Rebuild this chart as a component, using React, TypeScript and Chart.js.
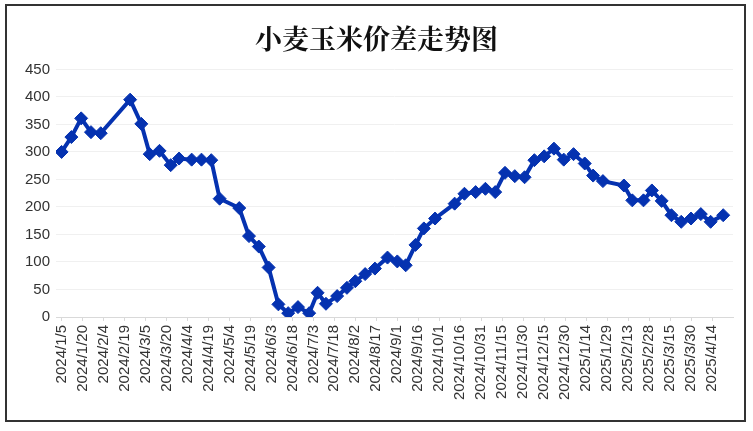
import React, { useEffect, useRef } from "react";
import { Chart, registerables } from "chart.js";

Chart.register(...registerables);

const TITLE = "小麦玉米价差走势图";

const dates: string[] = [
  "2024/1/5", "2024/1/12", "2024/1/19", "2024/1/26", "2024/2/2", "2024/2/23",
  "2024/3/2", "2024/3/8", "2024/3/15", "2024/3/23", "2024/3/29", "2024/4/7",
  "2024/4/14", "2024/4/21", "2024/4/27", "2024/5/11", "2024/5/18", "2024/5/25",
  "2024/6/1", "2024/6/8", "2024/6/15", "2024/6/22", "2024/6/30", "2024/7/6",
  "2024/7/12", "2024/7/20", "2024/7/27", "2024/8/2", "2024/8/9", "2024/8/16",
  "2024/8/25", "2024/9/1", "2024/9/7", "2024/9/14", "2024/9/20", "2024/9/28",
  "2024/10/12", "2024/10/19", "2024/10/27", "2024/11/3", "2024/11/10", "2024/11/17",
  "2024/11/24", "2024/12/1", "2024/12/8", "2024/12/15", "2024/12/22", "2024/12/29",
  "2025/1/5", "2025/1/13", "2025/1/19", "2025/1/26", "2025/2/10", "2025/2/16",
  "2025/2/24", "2025/3/2", "2025/3/9", "2025/3/16", "2025/3/23", "2025/3/30",
  "2025/4/6", "2025/4/13", "2025/4/22",
];

const spread: number[] = [
  300, 327, 361, 336, 334, 395,
  351, 296, 302, 276, 288, 286,
  286, 285, 215, 198, 147, 128,
  90, 23, 7, 18, 7, 44,
  24, 38, 53, 65, 78, 88,
  108, 101, 94, 131, 161, 179,
  206, 224, 227, 233, 227, 262,
  256, 254, 285, 292, 306, 286,
  296, 279, 257, 247, 239, 212,
  212, 230, 211, 185, 173, 179,
  187, 173, 185,
];

const tickLabels: string[] = [
  "2024/1/5", "2024/1/20", "2024/2/4", "2024/2/19", "2024/3/5", "2024/3/20",
  "2024/4/4", "2024/4/19", "2024/5/4", "2024/5/19", "2024/6/3", "2024/6/18",
  "2024/7/3", "2024/7/18", "2024/8/2", "2024/8/17", "2024/9/1", "2024/9/16",
  "2024/10/1", "2024/10/16", "2024/10/31", "2024/11/15", "2024/11/30", "2024/12/15",
  "2024/12/30", "2025/1/14", "2025/1/29", "2025/2/13", "2025/2/28", "2025/3/15",
  "2025/3/30", "2025/4/14",
];

const BASE = Date.UTC(2024, 0, 5);
function dayOf(s: string): number {
  const [y, m, d] = s.split("/").map(Number);
  return Math.round((Date.UTC(y, m - 1, d) - BASE) / 86400000);
}

const LINE_COLOR = "#0532b0";
const TICK_FONT = { family: "'Liberation Sans', Arial, sans-serif", size: 15 };

export default function App() {
  const canvasRef = useRef<HTMLCanvasElement | null>(null);

  useEffect(() => {
    if (!canvasRef.current) return;
    const points = dates.map((d, i) => ({ x: dayOf(d), y: spread[i] }));
    const tickMap = new Map<number, string>();
    tickLabels.forEach((l) => tickMap.set(dayOf(l), l));

    const chart = new Chart(canvasRef.current, {
      type: "line",
      data: {
        datasets: [
          {
            data: points,
            borderColor: LINE_COLOR,
            backgroundColor: LINE_COLOR,
            borderWidth: 4,
            pointStyle: "rectRot",
            pointRadius: 6.5,
            pointBorderWidth: 1,
            pointBackgroundColor: LINE_COLOR,
            pointBorderColor: LINE_COLOR,
            tension: 0,
          },
        ],
      },
      options: {
        animation: false,
        responsive: false,
        maintainAspectRatio: false,
        layout: { padding: { left: 20, right: 20, top: 0, bottom: 0 } },
        plugins: {
          legend: { display: false },
          tooltip: { enabled: false },
          title: {
            display: true,
            text: TITLE,
            color: "#111",
            font: { family: "'Noto Serif CJK SC', 'Noto Sans CJK SC', serif", size: 27, weight: "bold" },
            padding: { top: 23, bottom: 14 },
          },
        },
        scales: {
          x: {
            type: "linear",
            min: -4,
            max: 480,
            afterBuildTicks: (scale: any) => {
              scale.ticks = tickLabels.map((l) => ({ value: dayOf(l) }));
            },
            afterFit: (scale: any) => {
              scale.height = 114;
            },
            ticks: {
              autoSkip: false,
              minRotation: 90,
              maxRotation: 90,
              padding: 4,
              color: "#333",
              font: TICK_FONT,
              callback: (v: any) => tickMap.get(Math.round(Number(v))) ?? "",
            },
            grid: {
              drawOnChartArea: false,
              drawTicks: true,
              tickLength: 4,
              color: "#d9d9d9",
            },
            border: { display: true, color: "#d9d9d9", width: 1 },
          },
          y: {
            min: 0,
            max: 450,
            afterFit: (scale: any) => {
              scale.width = 36;
            },
            ticks: {
              stepSize: 50,
              padding: 6,
              color: "#333",
              font: TICK_FONT,
            },
            grid: {
              color: "#f0f0f0",
              drawTicks: false,
            },
            border: { display: false },
          },
        },
      },
    });
    return () => chart.destroy();
  }, []);

  return (
    <div
      style={{
        position: "fixed",
        left: 0,
        top: 0,
        width: 753,
        height: 431,
        background: "#fff",
      }}
    >
      <canvas ref={canvasRef} width={753} height={431} style={{ position: "absolute", left: 0, top: 0 }} />
      <div
        style={{
          position: "absolute",
          left: 5,
          top: 4,
          width: 741,
          height: 418,
          border: "2px solid #333",
          boxSizing: "border-box",
          pointerEvents: "none",
        }}
      />
    </div>
  );
}
